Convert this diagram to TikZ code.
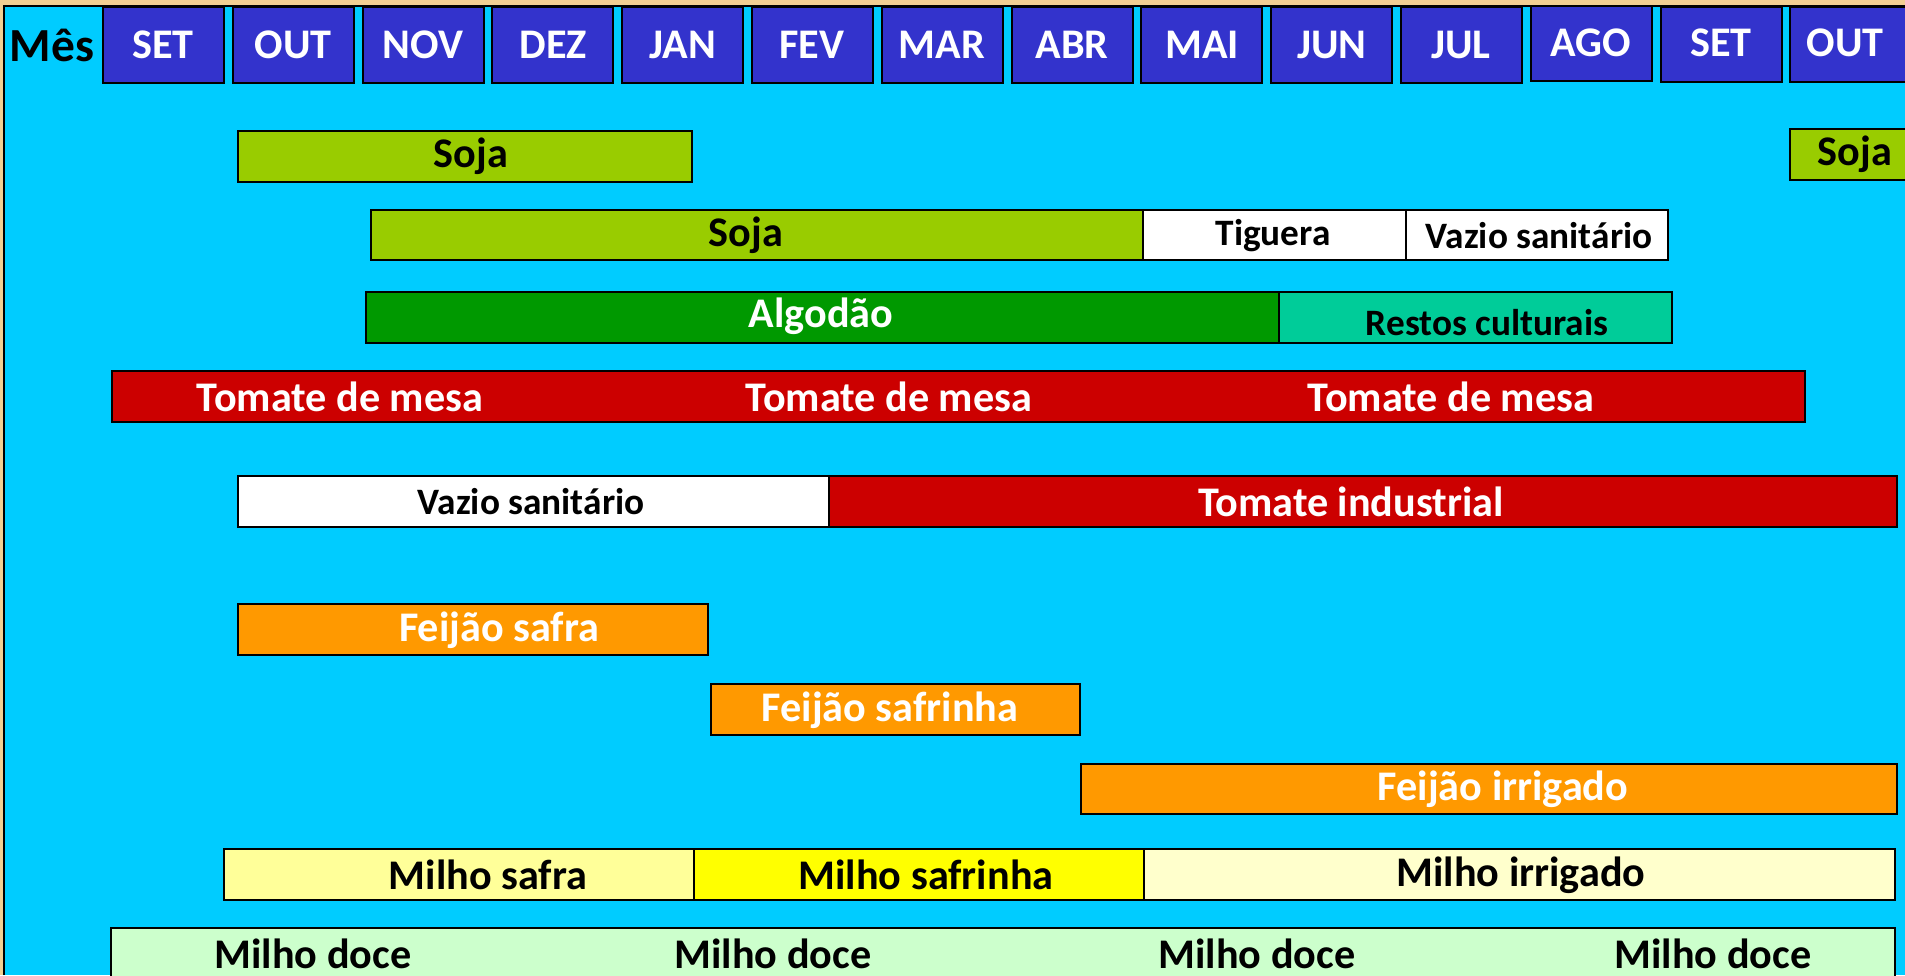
\documentclass[tikz,border=0pt]{standalone}
\usepackage{fontspec}
\setmainfont{Carlito}
\usepackage{tikz}

\definecolor{fundo}{HTML}{00CCFF}
\definecolor{moldura}{HTML}{F2CF93}
\definecolor{azulmes}{HTML}{3333CC}
\definecolor{soja}{HTML}{99CC00}
\definecolor{algodao}{HTML}{009900}
\definecolor{restos}{HTML}{00CC99}
\definecolor{tomate}{HTML}{CC0000}
\definecolor{feijao}{HTML}{FF9900}
\definecolor{milhosafra}{HTML}{FFFF99}
\definecolor{milhosafrinha}{HTML}{FFFF00}
\definecolor{milhoirrigado}{HTML}{FFFFCC}
\definecolor{milhodoce}{HTML}{CCFFCC}

\begin{document}
\begin{tikzpicture}[x=0.01cm,y=-0.01cm]
\tikzstyle{every node}+=[inner sep=0pt]
\tikzstyle{big}=[font=\bfseries\fontsize{12}{14}\selectfont]
\tikzstyle{small}=[font=\bfseries\fontsize{10.6}{12}\selectfont]
\tikzstyle{box}=[draw=black, line width=0.6pt]
\useasboundingbox (0,0) rectangle (1905,975);
\clip (0,0) rectangle (1905,975);
\fill [moldura] (0,0) rectangle (1905,975);
\fill [fundo] (4,6) rectangle (1905,975);
\draw [black, line width=0.6pt] (4,975) -- (4,6) -- (1905,6);
% meses
\node [font=\bfseries\fontsize{13.5}{15}\selectfont] (mes) at (52,45) {Mês};
\draw [box, fill=azulmes] (103,7) rectangle (224,83);
\node [big, white] (set1) at (163,45) {SET};
\draw [box, fill=azulmes] (233,7) rectangle (354,83);
\node [big, white] (out1) at (293,45) {OUT};
\draw [box, fill=azulmes] (363,7) rectangle (484,83);
\node [big, white] (nov) at (423,45) {NOV};
\draw [box, fill=azulmes] (492,7) rectangle (613,83);
\node [big, white] (dez) at (553,45) {DEZ};
\draw [box, fill=azulmes] (622,7) rectangle (743,83);
\node [big, white] (jan) at (683,45) {JAN};
\draw [box, fill=azulmes] (752,7) rectangle (873,83);
\node [big, white] (fev) at (812,45) {FEV};
\draw [box, fill=azulmes] (882,7) rectangle (1003,83);
\node [big, white] (mar) at (942,45) {MAR};
\draw [box, fill=azulmes] (1012,7) rectangle (1133,83);
\node [big, white] (abr) at (1072,45) {ABR};
\draw [box, fill=azulmes] (1141,7) rectangle (1262,83);
\node [big, white] (mai) at (1202,45) {MAI};
\draw [box, fill=azulmes] (1271,7) rectangle (1392,83);
\node [big, white] (jun) at (1332,45) {JUN};
\draw [box, fill=azulmes] (1401,7) rectangle (1522,83);
\node [big, white] (jul) at (1461,45) {JUL};
\draw [box, fill=azulmes] (1531,6) rectangle (1652,81);
\node [big, white] (ago) at (1591,43) {AGO};
\draw [box, fill=azulmes] (1661,7) rectangle (1782,82);
\node [big, white] (set2) at (1721,43) {SET};
\draw [box, fill=azulmes] (1790,7) rectangle (1915,82);
\node [big, white] (out2) at (1845,43) {OUT};
% soja
\draw [box, fill=soja] (238,131) rectangle (692,182);
\node [big] (soja1) at (471,156) {Soja};
\draw [box, fill=soja] (1790,129) rectangle (1915,180);
\node [big] (soja2) at (1855,154) {Soja};
\draw [box, fill=soja] (371,210) rectangle (1143,260);
\node [big] (soja3) at (746,235) {Soja};
\draw [box, fill=white] (1143,210) rectangle (1406,260);
\node [small] (tiguera) at (1273,236) {Tiguera};
\draw [box, fill=white] (1406,210) rectangle (1668,260);
\node [small] (vazio1) at (1539,236) {Vazio sanitário};
% algodao
\draw [box, fill=algodao] (366,292) rectangle (1279,343);
\node [big, white] (algodao) at (821,316) {Algodão};
\draw [box, fill=restos] (1279,292) rectangle (1672,343);
\node [small] (restos) at (1487,323) {Restos culturais};
% tomate
\draw [box, fill=tomate] (112,371) rectangle (1805,422);
\node [big, white] (mesa1) at (340,397) {Tomate de mesa};
\node [big, white] (mesa2) at (889,397) {Tomate de mesa};
\node [big, white] (mesa3) at (1451,397) {Tomate de mesa};
\draw [box, fill=white] (238,476) rectangle (829,527);
\node [small] (vazio2) at (531,502) {Vazio sanitário};
\draw [box, fill=tomate] (829,476) rectangle (1897,527);
\node [big, white] (industrial) at (1351,502) {Tomate industrial};
% feijao
\draw [box, fill=feijao] (238,604) rectangle (708,655);
\node [big, white] (fsafra) at (499,630) {Feijão safra};
\draw [box, fill=feijao] (711,684) rectangle (1080,735);
\node [big, white] (fsafrinha) at (890,710) {Feijão safrinha};
\draw [box, fill=feijao] (1081,764) rectangle (1897,814);
\node [big, white] (firrigado) at (1503,789) {Feijão irrigado};
% milho
\draw [box, fill=milhosafra] (224,849) rectangle (694,900);
\node [big] (msafra) at (488,875) {Milho safra};
\draw [box, fill=milhosafrinha] (694,849) rectangle (1144,900);
\node [big] (msafrinha) at (926,875) {Milho safrinha};
\draw [box, fill=milhoirrigado] (1144,849) rectangle (1895,900);
\node [big] (mirrigado) at (1521,875) {Milho irrigado};
\draw [box, fill=milhodoce] (111,928) rectangle (1895,990);
\node [big] (doce1) at (313,954) {Milho doce};
\node [big] (doce2) at (773,954) {Milho doce};
\node [big] (doce3) at (1257,954) {Milho doce};
\node [big] (doce4) at (1713,954) {Milho doce};
\end{tikzpicture}
\end{document}
